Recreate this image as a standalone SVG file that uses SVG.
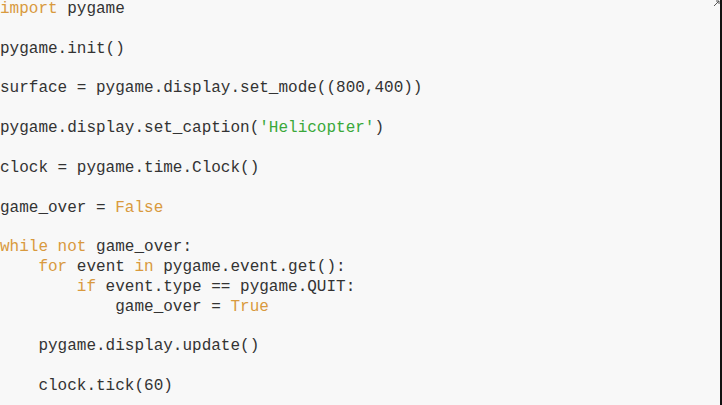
<svg xmlns="http://www.w3.org/2000/svg" width="722" height="405" viewBox="0 0 722 405">
<style>
text{font-family:"Liberation Mono","Courier New",monospace;font-size:16px;fill:#333;white-space:pre}
.k{fill:#d99a3e}
.s{fill:#3aa83a}
</style>
<rect width="722" height="405" fill="#f8f8f8"/>
<rect x="720" y="0" width="2" height="405" fill="#111"/>
<path d="M714 6 L719 1 M716 1 L719 1 L719 4" stroke="#555" fill="none" stroke-width="1"/>
<g id="code">
<text x="0" y="13"><tspan class="k">import</tspan> pygame</text>
<text x="0" y="52.7">pygame.init()</text>
<text x="0" y="92.4">surface = pygame.display.set_mode((800,400))</text>
<text x="0" y="132.1">pygame.display.set_caption(<tspan class="s">'Helicopter'</tspan>)</text>
<text x="0" y="171.8">clock = pygame.time.Clock()</text>
<text x="0" y="211.5">game_over = <tspan class="k">False</tspan></text>
<text x="0" y="251.2"><tspan class="k">while not</tspan> game_over:</text>
<text x="0" y="271"><tspan>    </tspan><tspan class="k">for</tspan> event <tspan class="k">in</tspan> pygame.event.get():</text>
<text x="0" y="290.9"><tspan>        </tspan><tspan class="k">if</tspan> event.type == pygame.QUIT:</text>
<text x="0" y="310.7">            game_over = <tspan class="k">True</tspan></text>
<text x="0" y="350.4">    pygame.display.update()</text>
<text x="0" y="390.1">    clock.tick(60)</text>
</g>
</svg>
